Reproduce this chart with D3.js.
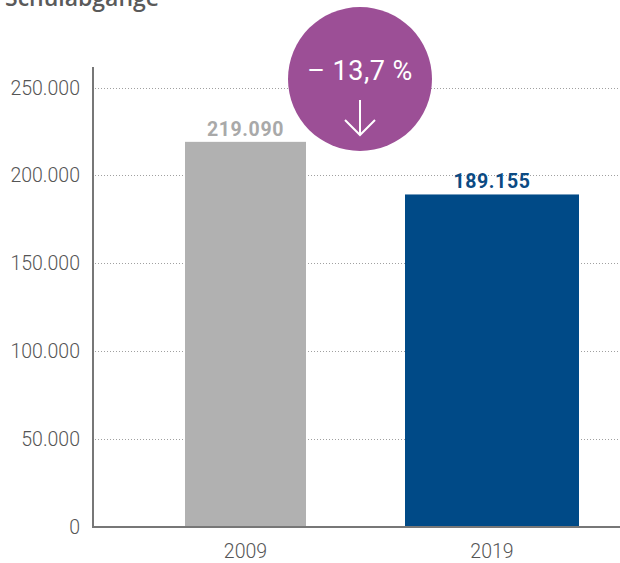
<!DOCTYPE html>
<html>
<head>
<meta charset="utf-8">
<script src="https://cdn.jsdelivr.net/npm/d3@7"></script>
<style>
  html, body { margin: 0; padding: 0; background: #fff; }
  svg { display: block; }
</style>
</head>
<body>
<svg id="chart" width="620" height="563"></svg>
<script>
// Schulabgänge 2009 vs. 2019
const years = ["2009", "2019"];
const values = [219090, 189155];
const valueLabels = ["219.090", "189.155"];
const yTicks = [0, 50000, 100000, 150000, 200000, 250000];
const yTickLabels = ["0", "50.000", "100.000", "150.000", "200.000", "250.000"];
const changeLabel = "– 13,7 %";
const title = "Schulabgänge";

const barColors = ["#b1b1b1", "#004a87"];
const labelColors = ["#a9a9a9", "#0b4a83"];
const barWidths = [121, 174];

const svg = d3.select("#chart");
const plotLeft = 93, plotRight = 620, plotBottom = 527, plotTop = 87.5;

const y = d3.scaleLinear().domain([0, 250000]).range([plotBottom, plotTop]);
const x = d3.scalePoint().domain(years).range([245.5, 492]);

// title (runs above the top edge)
svg.append("text")
  .attr("x", 5).attr("y", 6)
  .attr("font-family", "Open Sans, sans-serif")
  .attr("font-size", 23).attr("font-weight", 600)
  .attr("fill", "#5a5a5a")
  .text(title);

// dotted grid lines
svg.append("g").selectAll("line")
  .data(yTicks.filter(d => d > 0))
  .join("line")
  .attr("x1", plotLeft + 2).attr("x2", plotRight)
  .attr("y1", d => Math.round(y(d)) + 0.5).attr("y2", d => Math.round(y(d)) + 0.5)
  .attr("stroke", "#a0a0a0").attr("stroke-width", 1)
  .attr("stroke-dasharray", "1,2");

// y tick labels
svg.append("g").selectAll("text")
  .data(yTicks)
  .join("text")
  .attr("x", 80).attr("y", d => y(d) + 7)
  .attr("text-anchor", "end")
  .attr("font-family", "Roboto, sans-serif")
  .attr("font-size", 19.5).attr("font-weight", 300)
  .attr("fill", "#555")
  .text((d, i) => yTickLabels[i]);

// bars
svg.append("g").selectAll("rect")
  .data(values)
  .join("rect")
  .attr("x", (d, i) => x(years[i]) - barWidths[i] / 2)
  .attr("width", (d, i) => barWidths[i])
  .attr("y", d => y(d))
  .attr("height", d => plotBottom - y(d))
  .attr("fill", (d, i) => barColors[i]);

// value labels
svg.append("g").selectAll("text")
  .data(values)
  .join("text")
  .attr("x", (d, i) => x(years[i]))
  .attr("y", d => y(d) - 6)
  .attr("text-anchor", "middle")
  .attr("font-family", "Roboto, sans-serif")
  .attr("font-size", 19.5).attr("font-weight", 700)
  .attr("letter-spacing", 0.6)
  .attr("fill", (d, i) => labelColors[i])
  .text((d, i) => valueLabels[i]);

// axis lines
svg.append("line")
  .attr("x1", plotLeft).attr("x2", plotLeft)
  .attr("y1", 67).attr("y2", plotBottom + 1)
  .attr("stroke", "#777").attr("stroke-width", 2);
svg.append("line")
  .attr("x1", plotLeft - 1).attr("x2", plotRight)
  .attr("y1", plotBottom).attr("y2", plotBottom)
  .attr("stroke", "#777").attr("stroke-width", 2);

// x labels
svg.append("g").selectAll("text")
  .data(years)
  .join("text")
  .attr("x", d => x(d))
  .attr("y", 558)
  .attr("text-anchor", "middle")
  .attr("font-family", "Roboto, sans-serif")
  .attr("font-size", 19.5).attr("font-weight", 300)
  .attr("fill", "#555")
  .text(d => d);

// change badge
const badge = svg.append("g").attr("transform", "translate(360,79)");
badge.append("circle").attr("r", 72).attr("fill", "#9c4f96");
badge.append("text")
  .attr("x", 0).attr("y", 1)
  .attr("text-anchor", "middle")
  .attr("font-family", "Roboto, sans-serif")
  .attr("font-size", 27).attr("font-weight", 400)
  .attr("letter-spacing", 0.5)
  .attr("fill", "#fff")
  .text(changeLabel);
badge.append("path")
  .attr("d", "M0,21 V56 M-15,41 L0,56 L15,41")
  .attr("fill", "none")
  .attr("stroke", "#fff").attr("stroke-width", 2);
</script>
</body>
</html>
